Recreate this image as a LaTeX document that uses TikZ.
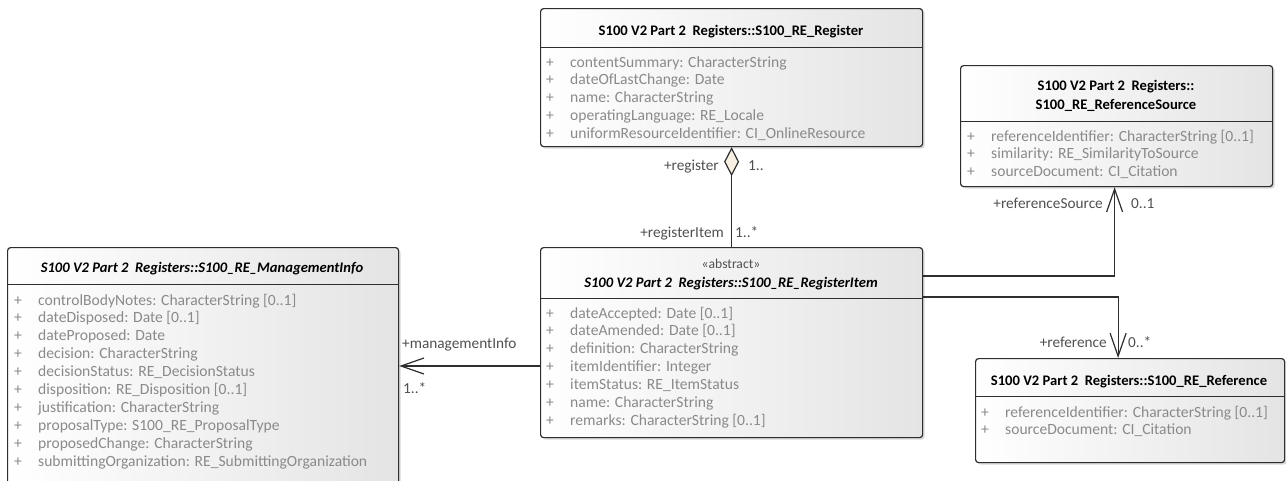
\documentclass[tikz,border=0pt]{standalone}
\usepackage{fontspec}
\setmainfont{Carlito}
\usetikzlibrary{arrows.meta,shadows,calc}

\definecolor{edge}{HTML}{2E2E2E}
\definecolor{attrgray}{HTML}{8A8A8A}
\definecolor{labgray}{HTML}{505050}
\definecolor{boxright}{HTML}{E4E4E4}
\definecolor{diamondfill}{HTML}{F8F0E3}

\tikzset{
  cls/.style={draw=edge, line width=1.2pt, rounded corners=3pt,
    left color=white, right color=boxright,
    drop shadow={shadow xshift=2pt, shadow yshift=-2pt, fill=black!30, opacity=0.5},
    anchor=north west, inner sep=0pt},
  sepline/.style={draw=edge, line width=1pt},
  clstitle/.style={font=\fontsize{14.6}{17}\selectfont\bfseries, text=black, inner sep=0pt, anchor=base},
  clsititle/.style={clstitle, font=\fontsize{14.6}{17}\selectfont\bfseries\itshape},
  stereo/.style={font=\fontsize{13.6}{16}\selectfont, text=labgray, inner sep=0pt, anchor=base},
  attr/.style={font=\fontsize{15.6}{18}\selectfont, text=attrgray, inner sep=0pt, anchor=base west},
  lab/.style={font=\fontsize{15.3}{18}\selectfont, text=labgray, inner sep=0pt},
  conn/.style={draw=edge, line width=1.2pt},
  navarrow/.style={-{Straight Barb[length=23pt,width=16pt,line width=1.2pt]}},
  aggr/.style={{Diamond[length=29pt,width=15pt,fill=diamondfill,line width=1.2pt]}-},
}

% attribute compartment: name prefix, x of "+", x of text, centre y of first line, lines
\newcommand\attrlist[5]{%
  \foreach \t [count=\i] in {#5} {
    \node[attr] (#1p\i) at ({#2},{#4+17.9*(\i-1)+5}) {+};
    \node[attr] (#1a\i) at ({#3},{#4+17.9*(\i-1)+5}) {\t};
  }}

\begin{document}
\begin{tikzpicture}[x=1pt,y=-1pt]
\useasboundingbox (0,0) rectangle (1286,480);

% ---------- S100_RE_Register ----------
\node[cls, minimum width=382pt, minimum height=138pt] (reg) at (540,8) {};
\node[clstitle] (regT) at (731,35) {S100 V2 Part 2\ \ Registers::S100\_RE\_Register};
\draw[sepline] (reg.west |- 0,47) -- (reg.east |- 0,47);
\attrlist{reg}{546}{570}{62}{contentSummary: CharacterString,
  dateOfLastChange: Date, name: CharacterString,
  operatingLanguage: RE\_Locale,
  uniformResourceIdentifier: CI\_OnlineResource}

% ---------- S100_RE_ReferenceSource ----------
\node[cls, minimum width=312pt, minimum height=121pt] (src) at (960,65) {};
\node[clstitle] (srcT1) at (1116,90) {S100 V2 Part 2\ \ Registers::};
\node[clstitle] (srcT2) at (1116,109) {S100\_RE\_ReferenceSource};
\draw[sepline] (src.west |- 0,121) -- (src.east |- 0,121);
\attrlist{src}{967}{991}{136}{referenceIdentifier: CharacterString [0..1],
  similarity: RE\_SimilarityToSource,
  sourceDocument: CI\_Citation}

% ---------- S100_RE_ManagementInfo ----------
\node[cls, minimum width=391pt, minimum height=250pt] (mgmt) at (7,247) {};
\node[clsititle] (mgmtT) at (202,272) {S100 V2 Part 2\ \ Registers::S100\_RE\_ManagementInfo};
\draw[sepline] (mgmt.west |- 0,284) -- (mgmt.east |- 0,284);
\attrlist{mgmt}{14}{38}{300}{controlBodyNotes: CharacterString [0..1],
  dateDisposed: Date [0..1], dateProposed: Date,
  decision: CharacterString, decisionStatus: RE\_DecisionStatus,
  disposition: RE\_Disposition [0..1], justification: CharacterString,
  proposalType: S100\_RE\_ProposalType, proposedChange: CharacterString,
  submittingOrganization: RE\_SubmittingOrganization}

% ---------- S100_RE_RegisterItem ----------
\node[cls, minimum width=382pt, minimum height=190pt] (item) at (540,247) {};
\node[stereo] (itemS) at (731,268.5) {«abstract»};
\node[clsititle] (itemT) at (731,287) {S100 V2 Part 2\ \ Registers::S100\_RE\_RegisterItem};
\draw[sepline] (item.west |- 0,298) -- (item.east |- 0,298);
\attrlist{item}{546}{570}{313}{dateAccepted: Date [0..1],
  dateAmended: Date [0..1], definition: CharacterString,
  itemIdentifier: Integer, itemStatus: RE\_ItemStatus,
  name: CharacterString, remarks: CharacterString [0..1]}

% ---------- S100_RE_Reference ----------
\node[cls, minimum width=309pt, minimum height=104pt] (ref) at (975,358) {};
\node[clstitle] (refT) at (1129,385) {S100 V2 Part 2\ \ Registers::S100\_RE\_Reference};
\draw[sepline] (ref.west |- 0,396) -- (ref.east |- 0,396);
\attrlist{ref}{981}{1005}{412}{referenceIdentifier: CharacterString [0..1],
  sourceDocument: CI\_Citation}

% ---------- associations ----------
\draw[conn, aggr] (reg.south) -- (item.north);
\node[lab, anchor=base east] (lRegister) at (719,170) {+register};
\node[lab, anchor=base west] (mRegister) at (748,170) {1..};
\node[lab, anchor=base east] (lRegItem) at (724,237) {+registerItem};
\node[lab, anchor=base west] (mRegItem) at (735,237) {1..*};

\coordinate (srcEnd) at ([xshift=-2pt]src.south);
\draw[conn, navarrow] (item.east |- 0,276) -| (srcEnd);
\node[lab, anchor=base east] (lSrc) at (1103,208) {+referenceSource};
\node[lab, anchor=base west] (mSrc) at (1131,208) {0..1};

\coordinate (refEnd) at ([xshift=-12pt]ref.north);
\draw[conn, navarrow] (item.east |- 0,297) -| (refEnd);
\node[lab, anchor=base east] (lRef) at (1107,347) {+reference};
\node[lab, anchor=base west] (mRef) at (1128,347) {0..*};

\draw[conn, navarrow] (item.west |- 0,366) -- (mgmt.east |- 0,366);
\node[lab, anchor=base west] (lMgmt) at (402,348) {+managementInfo};
\node[lab, anchor=base west] (mMgmt) at (403,393) {1..*};
\end{tikzpicture}
\end{document}
